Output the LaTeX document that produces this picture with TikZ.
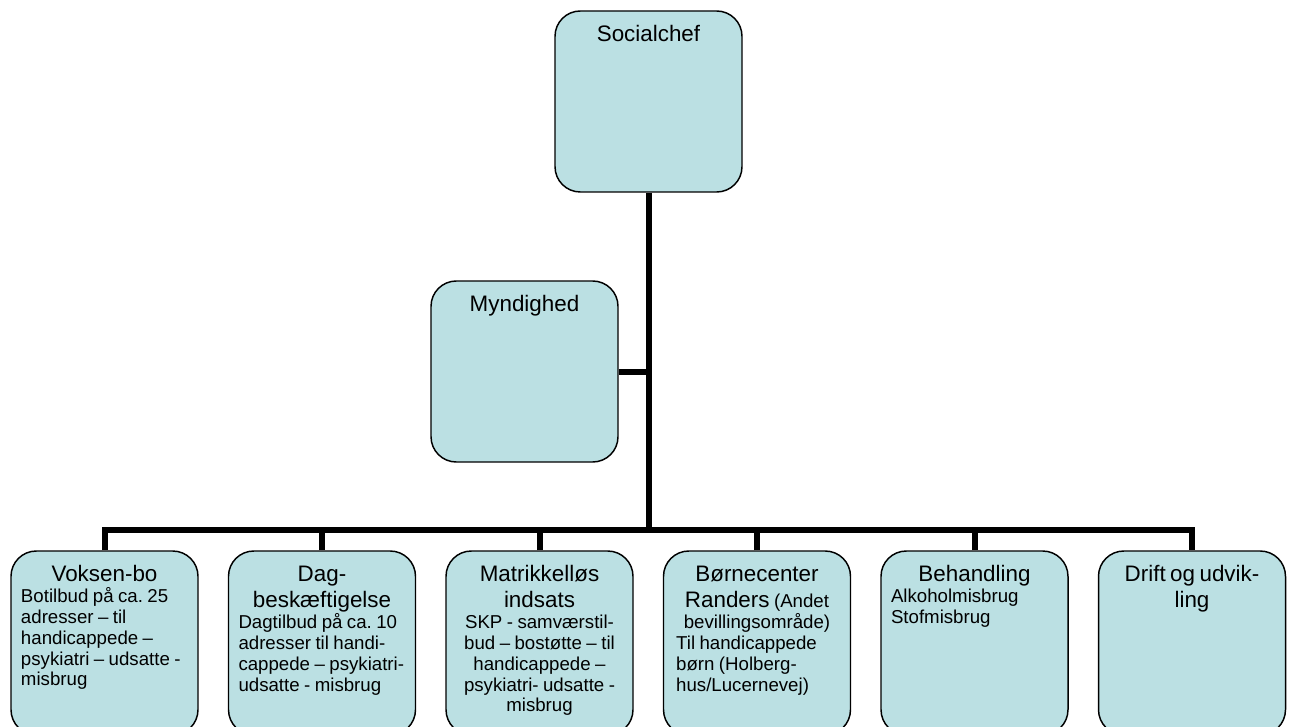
\documentclass[tikz,border=0pt]{standalone}
\usepackage{fontspec}
\setmainfont{Liberation Sans}
\frenchspacing
\definecolor{boxfill}{RGB}{187,224,227}
\newcommand\ttlfont{\fontsize{16.8pt}{19.5pt}\selectfont}
\newcommand\bdyfont{\fontsize{14pt}{15.7pt}\selectfont}
\newcommand\ctrline[1]{{\centering\mbox{#1}\par}}
\newcommand\lftline[1]{{\raggedright\mbox{#1}\par}}
\begin{document}
\begin{tikzpicture}[x=0.75pt,y=-0.75pt,
  box/.style={draw=black,line width=1.1pt,fill=boxfill,rounded corners=19pt,
    minimum width=140.25pt,minimum height=135.75pt,inner sep=0pt},
  lowbox/.style={box,minimum height=138pt},
  txt/.style={text width=125.25pt,inner sep=0pt,anchor=base,
    execute at begin node=\frenchspacing},
  conn/.style={line width=4.5pt}]
\path[use as bounding box] (0,0) rectangle (1291,727);
\clip (0,0) rectangle (1291,727);
% boxes
\node[box] (soc) at (648.5,101.5) {};
\node[box] (myn) at (524.5,371.5) {};
\node[lowbox] (b1) at (104.5,643) {};
\node[lowbox] (b2) at (322,643) {};
\node[lowbox] (b3) at (539.5,643) {};
\node[lowbox] (b4) at (757,643) {};
\node[lowbox] (b5) at (974.5,643) {};
\node[lowbox] (b6) at (1192,643) {};
\coordinate (bus) at (648.5,530);
% connectors
\draw[conn] (soc.south) -- (soc.south |- bus);
\draw[conn] (myn.east) -- (myn.east -| soc.south);
\draw[conn] (b1.north) |- (bus) -| (b6.north);
\foreach \b in {b2,b3,b4,b5} \draw[conn] (\b.north) -- (\b.north |- bus);
% texts
\node[txt] (tsoc) at ([yshift=-23.25pt]soc.north) {\ttlfont\ctrline{Socialchef}};
\node[txt] (tmyn) at ([yshift=-23.25pt]myn.north) {\ttlfont\ctrline{Myndighed}};
\node[txt] (t1) at ([yshift=-23.25pt]b1.north) {\ttlfont\ctrline{Voksen-bo}\bdyfont
  \lftline{Botilbud på ca. 25}\lftline{adresser – til}\lftline{handicappede –}%
  \lftline{psykiatri – udsatte -}\lftline{misbrug}};
\node[txt] (t2) at ([yshift=-23.25pt]b2.north) {\ttlfont\ctrline{Dag-}\ctrline{beskæftigelse}\bdyfont
  \lftline{Dagtilbud på ca. 10}\lftline{adresser til handi-}\lftline{cappede – psykiatri-}%
  \lftline{udsatte - misbrug}};
\node[txt] (t3) at ([yshift=-23.25pt]b3.north) {\ttlfont\ctrline{Matrikkelløs}\ctrline{indsats}\bdyfont
  \ctrline{SKP - samværstil-}\ctrline{bud – bostøtte – til}\ctrline{handicappede –}%
  \ctrline{psykiatri- udsatte -}\ctrline{misbrug}};
\node[txt] (t4) at ([yshift=-23.25pt]b4.north) {\ttlfont\ctrline{Børnecenter}\ctrline{Randers {\bdyfont(Andet}}\bdyfont
  \ctrline{bevillingsområde)}\lftline{\kern2pt Til handicappede}\lftline{\kern2pt børn (Holberg-}%
  \lftline{\kern2pt hus/Lucernevej)}};
\node[txt] (t5) at ([yshift=-23.25pt]b5.north) {\ttlfont\ctrline{Behandling}\bdyfont
  \lftline{Alkoholmisbrug}\lftline{Stofmisbrug}};
\node[txt] (t6) at ([yshift=-23.25pt]b6.north) {\ttlfont\ctrline{Drift og udvik-}\ctrline{ling}};
\end{tikzpicture}
\end{document}
